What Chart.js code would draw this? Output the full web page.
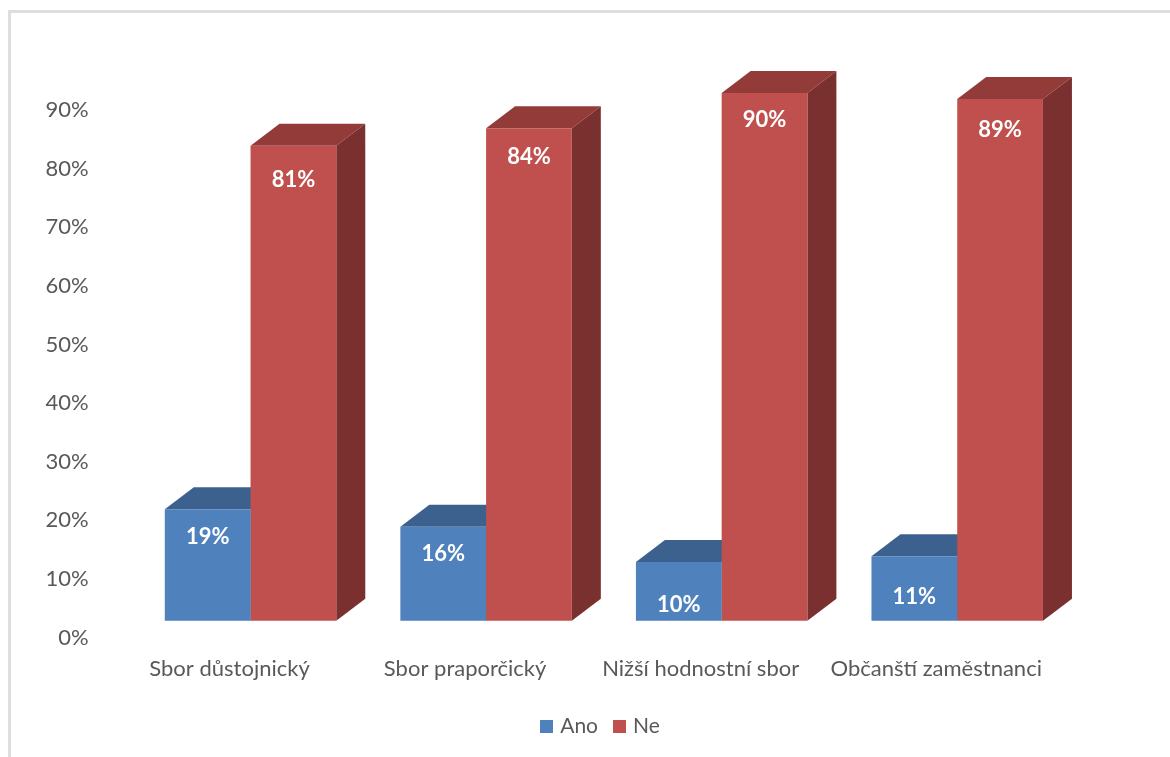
<!DOCTYPE html>
<html>
<head>
<meta charset="utf-8">
<script src="https://cdn.jsdelivr.net/npm/chart.js@4/dist/chart.umd.min.js"></script>
<style>
html,body{margin:0;padding:0;background:#fff;overflow:hidden}
#wrap{position:absolute;left:0;top:0;width:1170px;height:757px}
#frame{position:absolute;left:8px;top:10px;right:0;bottom:0;border-left:3px solid #dedede;border-top:3px solid #dedede}
canvas{position:absolute;left:0;top:0}
</style>
</head>
<body>
<div id="wrap"><div id="frame"></div><canvas id="c" width="1170" height="757"></canvas></div>
<script>
const categories = ['Sbor důstojnický','Sbor praporčický','Nižší hodnostní sbor','Občanští zaměstnanci'];
const ano = [19,16,10,11];
const ne = [81,84,90,89];
const colorAno = '#4f81bd', colorNe = '#c0504d';
const topAno = '#3c618e', topNe = '#933b39', sideAno = '#335377', sideNe = '#7a302f';
const DX = 29, DY = 22;
const labelDrop = {Ano:[28,27,43,41], Ne:[34,29,27,31]};
const FONT = 'Lato, sans-serif';

function swatch(color){
  const c=document.createElement('canvas');c.width=13;c.height=13;
  const g=c.getContext('2d');g.fillStyle=color;g.fillRect(0,0,13,13);
  return c;
}
const swatches=[swatch(colorAno),swatch(colorNe)];

const faces = {
  id:'faces',
  beforeDatasetsDraw(chart){
    const ctx = chart.ctx;
    chart.data.datasets.forEach((ds,i)=>{
      const top = i===0?topAno:topNe, side = i===0?sideAno:sideNe;
      chart.getDatasetMeta(i).data.forEach(b=>{
        const p = b.getProps(['x','y','base','width'],true);
        const l=p.x-p.width/2, r=p.x+p.width/2;
        ctx.fillStyle=top;
        ctx.beginPath();ctx.moveTo(l,p.y);ctx.lineTo(l+DX,p.y-DY);ctx.lineTo(r+DX,p.y-DY);ctx.lineTo(r,p.y);ctx.closePath();ctx.fill();
        ctx.fillStyle=side;
        ctx.beginPath();ctx.moveTo(r,p.y);ctx.lineTo(r+DX,p.y-DY);ctx.lineTo(r+DX,p.base-DY);ctx.lineTo(r,p.base);ctx.closePath();ctx.fill();
      });
    });
  },
  afterDatasetsDraw(chart){
    const ctx = chart.ctx;
    ctx.save();
    ctx.font='bold 22px '+FONT;ctx.fillStyle='#fff';ctx.textAlign='center';ctx.textBaseline='middle';
    chart.data.datasets.forEach((ds,i)=>{
      chart.getDatasetMeta(i).data.forEach((b,j)=>{
        const p=b.getProps(['x','y'],true);
        ctx.fillText(ds.data[j]+'%',p.x,p.y+labelDrop[ds.label][j]);
      });
    });
    ctx.restore();
  }
};
const legendShift = {id:'legendShift',afterLayout(chart){chart.legend.left+=64.25;chart.legend.right+=64.25;}};

new Chart(document.getElementById('c'),{
  type:'bar',
  data:{labels:categories,datasets:[
    {label:'Ano',data:ano,backgroundColor:colorAno,yAxisID:'y2'},
    {label:'Ne',data:ne,backgroundColor:colorNe,yAxisID:'y2'}
  ]},
  options:{
    responsive:false,animation:false,
    layout:{padding:{top:52,left:0,right:95,bottom:10}},
    datasets:{bar:{barPercentage:1,categoryPercentage:0.728}},
    scales:{
      x:{grid:{display:false,drawTicks:false},border:{display:false},
         ticks:{color:'#595959',font:{family:FONT,size:22},labelOffset:-21,padding:18,maxRotation:0,autoSkip:false},
         afterFit(s){s.height=60}},
      y:{min:0,max:99,grid:{display:false,drawTicks:false},border:{display:false},
         ticks:{stepSize:10,includeBounds:false,color:'#595959',font:{family:FONT,size:22},padding:44,callback:v=>v+'%'},
         afterFit(s){s.width=132.75}},
      y2:{display:false,min:-2.876,max:96.124}
    },
    plugins:{
      tooltip:{enabled:false},
      legend:{position:'bottom',labels:{usePointStyle:true,pointStyleWidth:6,boxHeight:13,color:'#595959',font:{family:FONT,size:21},padding:18.5,
        generateLabels(chart){
          const items=Chart.defaults.plugins.legend.labels.generateLabels(chart);
          items.forEach((it,i)=>{it.pointStyle=swatches[i]});
          return items;
        }}}
    }
  },
  plugins:[faces,legendShift]
});
</script>
</body>
</html>
